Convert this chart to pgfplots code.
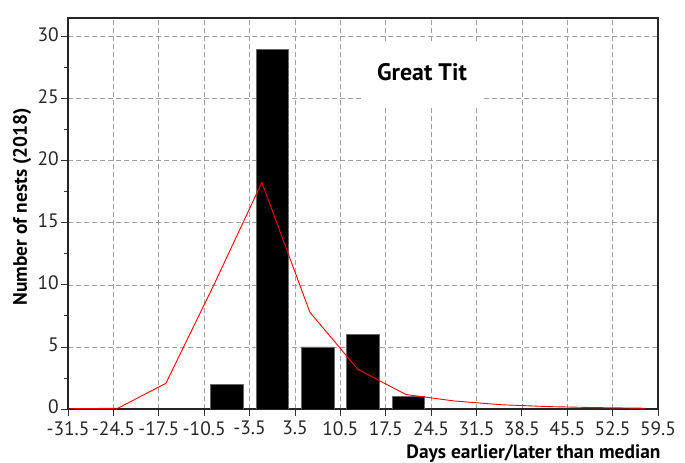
\documentclass[border=0pt]{standalone}
\usepackage{fontspec}
\setmainfont{PT Sans}
\newfontfamily\labelfont{PT Sans}
\usepackage{pgfplots}
\pgfplotsset{compat=1.18}
\begin{document}
\begin{tikzpicture}[x=1bp,y=1bp]
\useasboundingbox (0,0) rectangle (685,463);
\begin{axis}[
  at={(68bp,54bp)}, anchor=south west,
  scale only axis, width=590bp, height=391bp,
  xmin=-31.5, xmax=59.5, ymin=0, ymax=31.5,
  xtick={-31.5,-24.5,-17.5,-10.5,-3.5,3.5,10.5,17.5,24.5,31.5,38.5,45.5,52.5,59.5},
  xticklabels={-31.5,-24.5,-17.5,-10.5,-3.5,3.5,10.5,17.5,24.5,31.5,38.5,45.5,52.5,59.5},
  ytick={0,5,10,15,20,25,30},
  minor ytick={2.5,7.5,12.5,17.5,22.5,27.5},
  /pgf/number format/assume math mode=true,
  tick label style={font=\fontsize{19.5}{21}\selectfont, text=black!85},
  xticklabel style={inner sep=1bp, yshift=-4bp},
  yticklabel style={inner sep=1bp, xshift=-1bp, yshift=2bp},
  xtick pos=left, ytick pos=left,
  tick align=outside,
  major tick length=7bp, minor tick length=4bp,
  tick style={black!80, line width=0.8bp},
  grid=major,
  major grid style={gray!75, line width=0.7bp, dash pattern=on 5bp off 3bp},
  axis line style={black!85, line width=1.1bp},
  xlabel={Days earlier/later than median},
  xlabel style={font=\labelfont\bfseries\fontsize{19.5}{21}\selectfont, at={(rel axis cs:1,0)}, anchor=base east, xshift=6bp, yshift=-49.5bp},
  ylabel={Number of nests (2018)},
  ylabel style={font=\labelfont\bfseries\fontsize{19.5}{21}\selectfont, at={(rel axis cs:-0.078,0.517)}, anchor=center},
]
\addplot[ybar, bar width=5, fill=black, draw=black!60, line width=0.6bp] coordinates {(-7,2) (0,29) (7,5) (14,6) (21,1)};
\addplot[red, line width=0.9bp, no marks] coordinates {
(-31.2,0.02) (-23.8,0.06) (-16.4,2.07) (-9.0,10.0) (-1.6,18.25) (5.8,7.8) (13.2,3.2) (20.6,1.17) (28.0,0.65) (35.4,0.34) (42.8,0.19) (50.2,0.11) (57.6,0.06)};
\node[fill=white, minimum width=118bp, minimum height=64bp, inner sep=0pt, font=\labelfont\bfseries\fontsize{24}{26}\selectfont] at (axis cs:23.1,27.1) {Great Tit};
\end{axis}
\end{tikzpicture}
\end{document}
